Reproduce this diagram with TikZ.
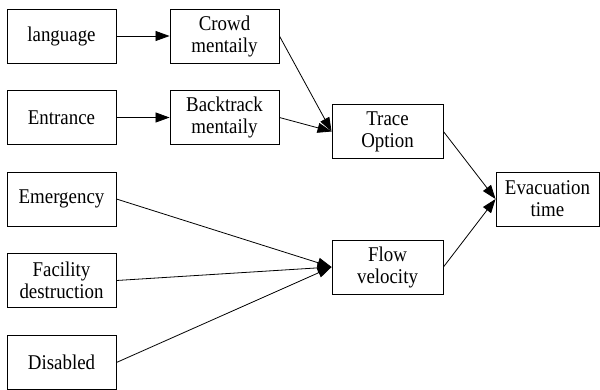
\documentclass[tikz,border=0pt]{standalone}
\usepackage{fontspec}
\setmainfont{Liberation Serif}[FakeStretch=0.9]
\usetikzlibrary{arrows.meta}
\begin{document}
\begin{tikzpicture}[x=1pt,y=-1pt,
  box/.style={draw=black, line width=0.9pt, minimum width=109pt, minimum height=54pt,
    inner sep=0pt, align=center, font=\fontsize{21}{22}\selectfont},
  conn/.style={line width=0.8pt, -{Triangle[length=14pt,width=10pt]}}]
\clip (0,0) rectangle (600,389);
\node[box] (lang) at (61.5,36) {language};
\node[box] (crowd) at (224.5,36) {Crowd\\mentaily};
\node[box] (entr) at (61.5,117.5) {Entrance};
\node[box] (back) at (224.5,117.5) {Backtrack\\mentaily};
\node[box] (emer) at (61.5,199) {Emergency};
\node[box] (fac) at (61.5,280.5) {Facility\\destruction};
\node[box] (dis) at (61.5,362.5) {Disabled};
\node[box, minimum width=111pt] (trace) at (387.5,131.5) {Trace\\Option};
\node[box, minimum width=111pt] (flow) at (387.5,267) {Flow\\velocity};
\node[box, minimum width=103pt] (evac) at (547.5,199) {Evacuation\\time};
\draw[conn] (lang.east) -- (crowd.west);
\draw[conn] (entr.east) -- (back.west);
\draw[conn] (crowd.east) -- (trace.west);
\draw[conn] (back.east) -- (trace.west);
\draw[conn] (emer.east) -- (flow.west);
\draw[conn] (fac.east) -- (flow.west);
\draw[conn] (dis.east) -- (flow.west);
\draw[conn] (trace.east) -- (evac.west);
\draw[conn] (flow.east) -- (evac.west);
\end{tikzpicture}
\end{document}
